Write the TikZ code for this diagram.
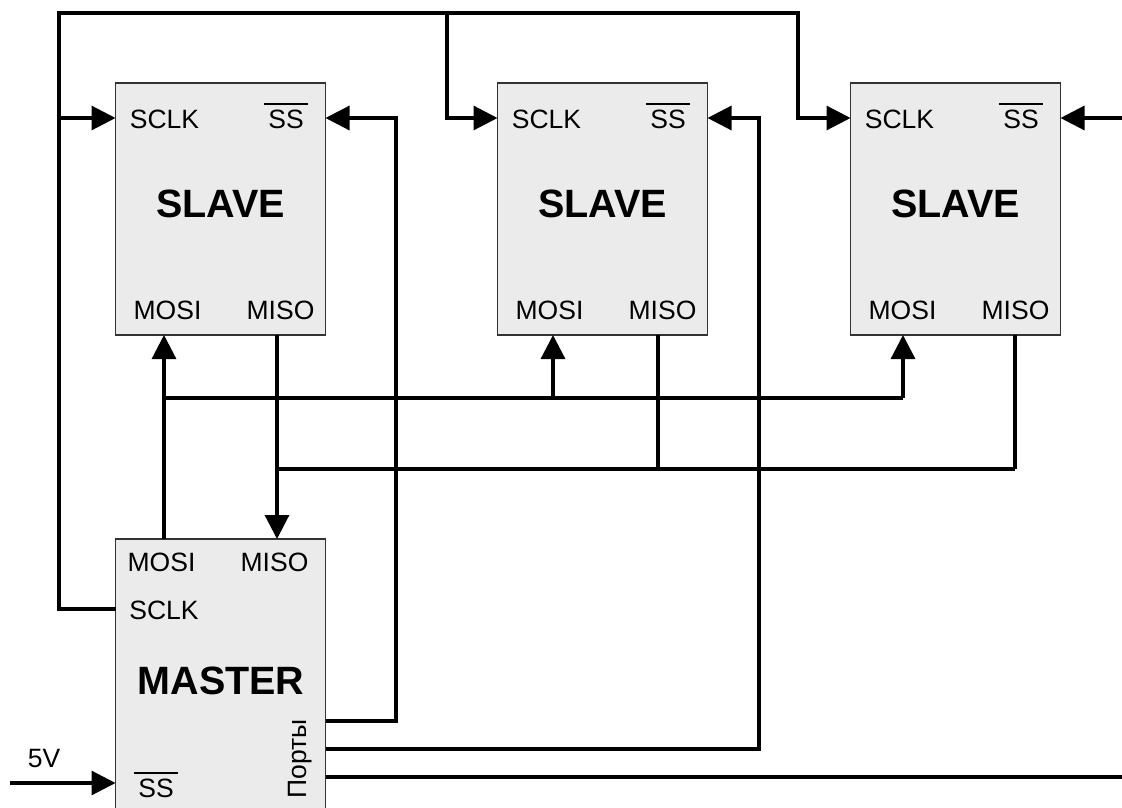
\documentclass[tikz,border=0pt]{standalone}
\usepackage{fontspec}
\setmainfont{Liberation Sans}
\usetikzlibrary{arrows.meta,calc}
\newcommand\ovlbar[1]{\vbox{\hrule height 1.6pt\kern 4.5pt\hbox{\kern4pt#1\kern4pt}}}
\begin{document}
\begin{tikzpicture}[x=1pt,y=-1pt,
  wire/.style={line width=3.2pt,line join=miter},
  arr/.style={wire,-{Triangle[length=24pt,width=24pt]}},
  chip/.style={draw=black!80,line width=1.1pt,fill=black!8,minimum width=210pt,inner sep=0,outer sep=0},
  lbl/.style={font=\fontsize{26.5}{31}\selectfont,inner sep=0,anchor=base},
  ttl/.style={font=\fontsize{39.5}{45}\selectfont\bfseries,inner sep=0,anchor=base}]
\useasboundingbox (0,0) rectangle (1122,808);
% chips
\node[chip,minimum height=252pt] (s1) at (220.5,209) {};
\node[chip,minimum height=252pt] (s2) at (602.5,209) {};
\node[chip,minimum height=252pt] (s3) at (955.5,209) {};
\node[chip,minimum height=280pt] (m) at (220.5,679) {};
% slave labels
\foreach \s/\dx in {s1/0,s2/382,s3/735}{
  \node[lbl] at (164.5+\dx,128) {SCLK};
  \node[lbl] at (286+\dx,128) {\ovlbar{SS}};
  \node[ttl] at (220.5+\dx,217) {SLAVE};
  \node[lbl] at (167.5+\dx,319) {MOSI};
  \node[lbl] at (280.5+\dx,319) {MISO};
}
% master labels
\node[lbl] at (161.5,571) {MOSI};
\node[lbl] at (274.5,571) {MISO};
\node[lbl] at (164,619) {SCLK};
\node[ttl] at (221,694) {MASTER};
\node[lbl] at (156,797) {\ovlbar{SS}};
\node[lbl,rotate=90] at (306,759) {Порты};
\node[lbl] (v5) at (44,767) {5V};
% pin coordinates
\coordinate (s1sclk) at (s1.west |- 0,118);
\coordinate (s2sclk) at (s2.west |- 0,118);
\coordinate (s3sclk) at (s3.west |- 0,118);
\coordinate (s1ss) at (s1.east |- 0,118);
\coordinate (s2ss) at (s2.east |- 0,118);
\coordinate (s3ss) at (s3.east |- 0,118);
\coordinate (s1mosi) at (164,0 |- s1.south);
\coordinate (s2mosi) at (553,0 |- s2.south);
\coordinate (s3mosi) at (903,0 |- s3.south);
\coordinate (s1miso) at (277,0 |- s1.south);
\coordinate (s2miso) at (658,0 |- s2.south);
\coordinate (s3miso) at (1015,0 |- s3.south);
\coordinate (mmosi) at (164,0 |- m.north);
\coordinate (mmiso) at (277,0 |- m.north);
\coordinate (msclk) at (m.west |- 0,609);
\coordinate (mss) at (m.west |- 0,783);
\coordinate (mp1) at (m.east |- 0,721);
\coordinate (mp2) at (m.east |- 0,749);
\coordinate (mp3) at (m.east |- 0,777);
\coordinate (in5v) at (10,783);
\coordinate (edge3) at (1122,118);
\coordinate (edgep) at (1122,777);
% SCLK net
\draw[arr] (msclk) -- (59,609) -- (59,13) -- (798,13) -- (798,118) -- (s3sclk);
\draw[arr] (59,118) -- (s1sclk);
\draw[arr] (447,13) |- (s2sclk);
% SS lines
\draw[arr] (mp1) -- (396,721) -- (396,118) -- (s1ss);
\draw[arr] (mp2) -- (759,749) -- (759,118) -- (s2ss);
\draw[arr] (edge3) -- (s3ss);
\draw[wire] (mp3) -- (edgep);
% MOSI net
\draw[arr] (mmosi) -- (s1mosi);
\draw[wire] (164,398) -- (903,398);
\draw[arr] (553,398) -- (s2mosi);
\draw[arr] (903,398) -- (s3mosi);
% MISO net
\draw[arr] (s1miso) -- (mmiso);
\draw[wire] (277,469) -- (1015,469);
\draw[wire] (s2miso) -- (658,469);
\draw[wire] (s3miso) -- (1015,469);
% 5V
\draw[arr] (in5v) -- (mss);
\end{tikzpicture}
\end{document}
